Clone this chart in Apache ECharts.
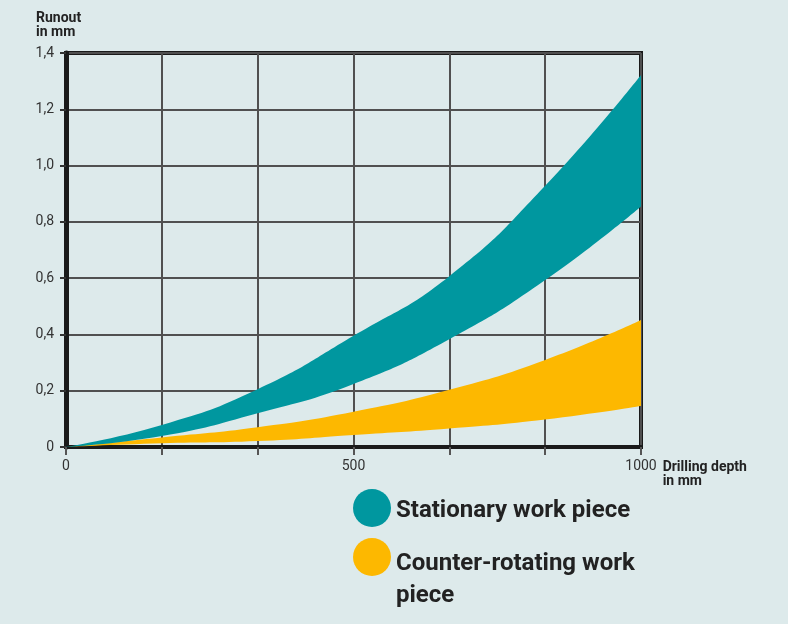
<!DOCTYPE html>
<html>
<head>
<meta charset="utf-8">
<script src="https://cdn.jsdelivr.net/npm/echarts@6/dist/echarts.min.js"></script>
<style>
  html, body { margin: 0; padding: 0; background: #ddeaeb; }
  #chart { width: 788px; height: 624px; }
</style>
</head>
<body>
<div id="chart"></div>
<script>
// drilling depth in mm (gridline positions)
var depth = ['0', '166.7', '333.3', '500', '666.7', '833.3', '1000'];
// runout band, stationary work piece
var statLow  = [0, 0.039, 0.12, 0.224, 0.383, 0.593, 0.855];
var statHigh = [0, 0.078, 0.205, 0.395, 0.607, 0.928, 1.322];
// runout band, counter-rotating work piece
var cntLow  = [0, 0.013, 0.021, 0.043, 0.066, 0.098, 0.146];
var cntHigh = [0, 0.034, 0.07, 0.125, 0.203, 0.309, 0.451];
var xLabels = ['0', '500', '1000'];

var teal = '#00979f', yellow = '#fdb800';
var font = 'Roboto';

function diff(a, b) { return a.map(function (v, i) { return +(v - b[i]).toFixed(4); }); }

function band(name, stack, low, high, color) {
  return [{
    name: name + ' low', type: 'line', stack: stack, smooth: 0.5,
    showSymbol: false, silent: true,
    lineStyle: { width: 0 }, itemStyle: { color: color },
    data: low
  }, {
    name: name, type: 'line', stack: stack, smooth: 0.5,
    showSymbol: false, silent: true,
    lineStyle: { width: 0 }, itemStyle: { color: color },
    areaStyle: { color: color, opacity: 1 },
    data: diff(high, low)
  }];
}

var legendText = { fontFamily: font, fontSize: 24, fontWeight: 'bold', color: '#222' };

var chart = echarts.init(document.getElementById('chart'));
chart.setOption({
  backgroundColor: '#ddeaeb',
  animation: false,
  textStyle: { fontFamily: font },
  title: {
    text: 'Runout\nin mm', left: 31, top: 6,
    textStyle: { fontFamily: font, fontSize: 14, fontWeight: 'bold', color: '#222', lineHeight: 14 }
  },
  grid: {
    left: 66, right: 147, top: 53, bottom: 177,
    show: true, borderColor: '#1a1a1a', borderWidth: 4, backgroundColor: 'transparent'
  },
  legend: [{
    left: 353, top: 489, padding: 0, orient: 'vertical',
    icon: 'circle', itemWidth: 38, itemHeight: 38,
    selectedMode: false,
    data: ['Stationary work piece'],
    formatter: function (n) { return '{g|}\n{t|' + n + '}'; },
    textStyle: {
      rich: {
        g: { lineHeight: 6, fontSize: 4 },
        t: Object.assign({ lineHeight: 32 }, legendText)
      }
    }
  }, {
    left: 353, top: 523, padding: 0, orient: 'vertical',
    icon: 'circle', itemWidth: 38, itemHeight: 38,
    selectedMode: false,
    data: ['Counter-rotating work piece'],
    formatter: function () { return '{g|}\n{t|Counter-rotating work}\n{t|piece}'; },
    textStyle: {
      rich: {
        g: { lineHeight: 46, fontSize: 4 },
        t: Object.assign({ lineHeight: 32 }, legendText)
      }
    }
  }],
  xAxis: {
    type: 'category', boundaryGap: false, data: depth,
    name: 'Drilling depth\nin mm', nameLocation: 'end', nameGap: 17,
    nameTextStyle: { fontFamily: font, fontSize: 14, fontWeight: 'bold', color: '#222', align: 'left', verticalAlign: 'top', lineHeight: 14, padding: [13, 0, 0, 0] },
    axisLine: { lineStyle: { color: '#1a1a1a', width: 4 } },
    axisTick: { show: true, interval: 0, length: 8, lineStyle: { color: '#555', width: 2 } },
    axisLabel: {
      interval: 0, fontSize: 14, color: '#333', margin: 12,
      formatter: function (v) { return xLabels.indexOf(v) >= 0 ? v : ''; }
    },
    splitLine: { show: true, interval: 0, lineStyle: { color: '#505050', width: 2 } }
  },
  yAxis: {
    type: 'value', min: 0, max: 1.4, interval: 0.2,
    axisLine: { show: true, lineStyle: { color: '#1a1a1a', width: 5 } },
    axisTick: { show: true, length: 6, lineStyle: { color: '#333', width: 2 } },
    axisLabel: {
      fontSize: 14, color: '#333', margin: 12,
      formatter: function (v) { return v === 0 ? '0' : v.toFixed(1).replace('.', ','); }
    },
    splitLine: { show: true, lineStyle: { color: '#505050', width: 2 } }
  },
  series: band('Counter-rotating work piece', 'cnt', cntLow, cntHigh, yellow)
    .concat(band('Stationary work piece', 'stat', statLow, statHigh, teal))
});
</script>
</body>
</html>
